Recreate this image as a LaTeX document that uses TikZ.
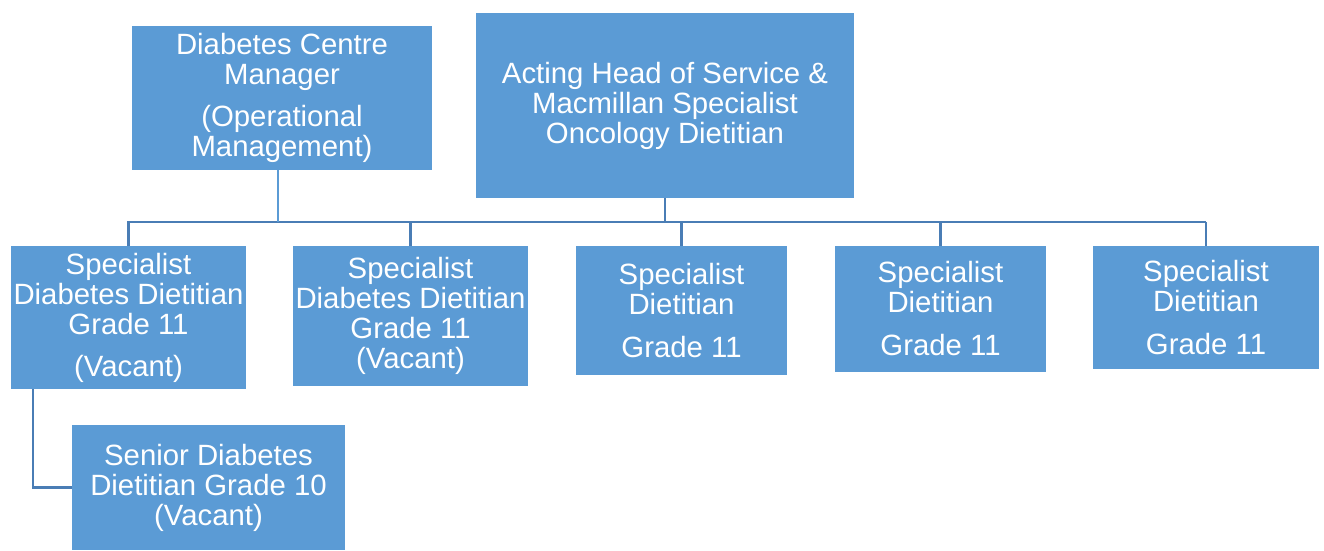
\documentclass[tikz,border=0pt]{standalone}
\usepackage{fontspec}
\setmainfont{Liberation Sans}
\definecolor{boxfill}{HTML}{5B9BD5}
\definecolor{linecol}{HTML}{4A7DB5}
\begin{document}
\begin{tikzpicture}[x=0.75pt,y=-0.75pt,
  box/.style 2 args={draw=none, fill=boxfill, text=white, align=center, inner sep=0pt,
    minimum width=#1*0.75pt, minimum height=#2*0.75pt,
    font=\fontsize{22}{22.5}\selectfont},
  conn/.style={draw=linecol, line width=1.6pt},
  mconn/.style={draw=boxfill, line width=0.9pt}]
\useasboundingbox[fill=white] (0,0) rectangle (1324,550);

\node[box={300}{144}] (mgr) at (282,98) {Diabetes Centre\\Manager\\[9pt](Operational\\Management)};
\node[box={378}{185}] (head) at (665,105.5) {Acting Head of Service \&\\Macmillan Specialist\\Oncology Dietitian};

\node[box={235}{143}] (b1) at (128.5,317.5) {Specialist\\Diabetes Dietitian\\Grade 11\\[9pt](Vacant)};
\node[box={235}{140}] (b2) at (410.5,316) {Specialist\\Diabetes Dietitian\\Grade 11\\(Vacant)};
\node[box={211}{129}] (b3) at (681.5,310.5) {Specialist\\Dietitian\\[9.75pt]Grade 11};
\node[box={211}{126}] (b4) at (940.5,309) {Specialist\\Dietitian\\[9.75pt]Grade 11};
\node[box={226}{123}] (b5) at (1206,307.5) {Specialist\\Dietitian\\[9.75pt]Grade 11};
\node[box={273}{125}] (sen) at (208.5,487.5) {Senior Diabetes\\Dietitian Grade 10\\(Vacant)};

\coordinate (barL) at (127,222);
\coordinate (barR) at (1206,222);
\draw[conn] (barL) -- (barR);
\draw[conn] (head.south) -- (head.south |- barL);
\draw[mconn] ([xshift=-3pt]mgr.south) -- ([xshift=-3pt]mgr.south |- barL);
\foreach \b in {b1,b2,b3,b4,b5}{
  \draw[conn] (\b.north) -- (\b.north |- barL);
}
\draw[conn] ([xshift=16.5pt]b1.south west) |- (sen.west);
\end{tikzpicture}
\end{document}
